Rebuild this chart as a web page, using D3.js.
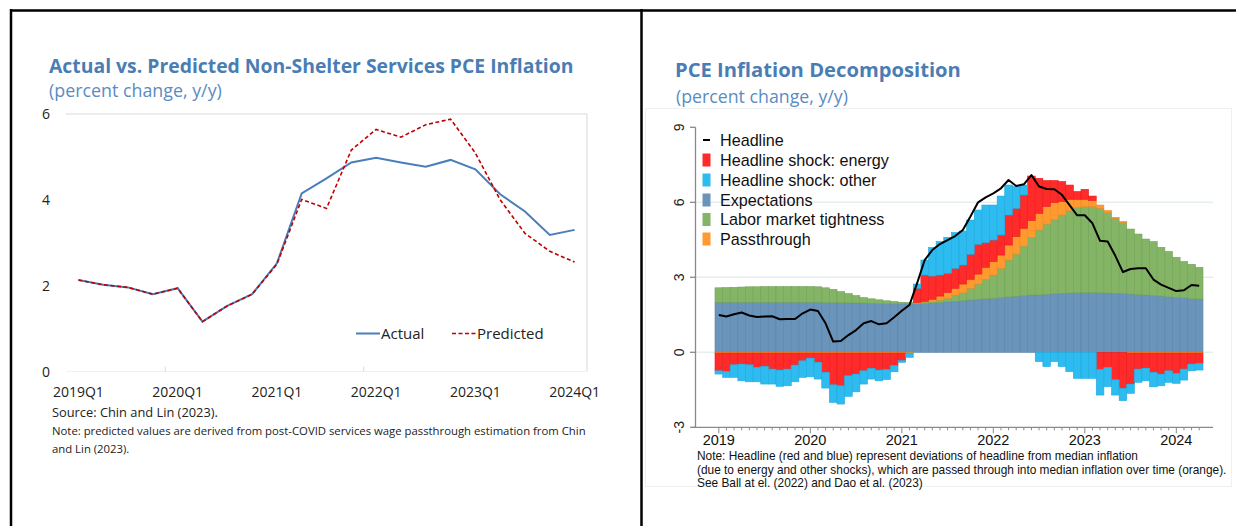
<!DOCTYPE html>
<html><head><meta charset="utf-8">
<script src="https://cdn.jsdelivr.net/npm/d3@7"></script>
<style>body{margin:0;background:#fff}svg{display:block}</style>
</head><body>
<svg id="c" width="1236" height="526"></svg>
<script>
// ---------- LEFT PANEL DATA ----------
const quarters = ["2019Q1","2019Q2","2019Q3","2019Q4","2020Q1","2020Q2","2020Q3","2020Q4",
  "2021Q1","2021Q2","2021Q3","2021Q4","2022Q1","2022Q2","2022Q3","2022Q4",
  "2023Q1","2023Q2","2023Q3","2023Q4","2024Q1"];
const actual = [2.13,2.02,1.96,1.80,1.94,1.16,1.53,1.80,2.52,4.15,4.50,4.87,4.98,4.87,4.77,4.93,4.71,4.13,3.73,3.18,3.30];
const predicted = [2.13,2.02,1.96,1.80,1.94,1.16,1.53,1.80,2.50,4.01,3.80,5.16,5.64,5.46,5.75,5.88,5.09,4.00,3.22,2.80,2.55];
const quarterTickLabels = ["2019Q1","2020Q1","2021Q1","2022Q1","2023Q1","2024Q1"];
const leftYTicks = [0,2,4,6];

// ---------- RIGHT PANEL DATA ----------
const months = [
 "2019-01","2019-02","2019-03","2019-04","2019-05","2019-06","2019-07","2019-08","2019-09","2019-10","2019-11","2019-12",
 "2020-01","2020-02","2020-03","2020-04","2020-05","2020-06","2020-07","2020-08","2020-09","2020-10","2020-11","2020-12",
 "2021-01","2021-02","2021-03","2021-04","2021-05","2021-06","2021-07","2021-08","2021-09","2021-10","2021-11","2021-12",
 "2022-01","2022-02","2022-03","2022-04","2022-05","2022-06","2022-07","2022-08","2022-09","2022-10","2022-11","2022-12",
 "2023-01","2023-02","2023-03","2023-04","2023-05","2023-06","2023-07","2023-08","2023-09","2023-10","2023-11","2023-12",
 "2024-01","2024-02","2024-03","2024-04"];
const headline = [
 1.49,1.43,1.52,1.59,1.47,1.41,1.43,1.44,1.32,1.33,1.33,1.56,
 1.71,1.65,1.16,0.43,0.45,0.69,0.89,1.16,1.25,1.12,1.16,1.40,
 1.66,1.89,2.76,3.69,4.09,4.33,4.49,4.65,4.89,5.43,6.00,6.20,
 6.36,6.56,6.89,6.65,6.72,7.09,6.63,6.53,6.52,6.30,5.89,5.48,
 5.48,5.16,4.46,4.43,3.86,3.21,3.33,3.36,3.36,2.91,2.71,2.58,
 2.45,2.48,2.69,2.66];
const expectations = [
 2.00,2.00,2.00,2.00,2.00,2.00,2.00,2.00,2.00,2.00,2.00,2.00,
 2.00,2.00,1.99,1.99,1.98,1.98,1.97,1.97,1.96,1.95,1.94,1.94,
 1.94,1.94,1.94,1.95,1.97,1.99,2.02,2.04,2.07,2.09,2.12,2.14,
 2.16,2.19,2.22,2.24,2.27,2.29,2.30,2.32,2.34,2.36,2.37,2.38,
 2.39,2.39,2.38,2.37,2.36,2.35,2.33,2.31,2.29,2.27,2.25,2.22,
 2.20,2.18,2.15,2.13];
const laborMarket = [
 0.58,0.59,0.60,0.61,0.62,0.62,0.63,0.63,0.63,0.63,0.63,0.63,
 0.63,0.62,0.59,0.53,0.45,0.37,0.30,0.22,0.18,0.15,0.12,0.09,
 0.06,0.05,0.05,0.06,0.06,0.10,0.14,0.25,0.32,0.47,0.61,0.78,
 0.93,1.17,1.47,1.69,1.98,2.31,2.59,2.81,2.98,3.13,3.30,3.41,
 3.44,3.44,3.38,3.22,3.00,2.84,2.60,2.42,2.24,2.16,1.95,1.81,
 1.60,1.45,1.37,1.27];
const passthrough = [
 -0.03,-0.03,-0.03,-0.03,-0.03,-0.03,-0.03,-0.03,-0.03,-0.03,-0.03,-0.03,
 -0.03,-0.03,-0.03,-0.03,-0.03,-0.03,-0.03,-0.03,-0.03,-0.03,-0.03,-0.03,
 -0.03,-0.03,0.01,0.03,0.09,0.16,0.23,0.27,0.34,0.36,0.40,0.48,
 0.54,0.53,0.60,0.70,0.71,0.67,0.67,0.70,0.67,0.54,0.45,0.33,
 0.29,0.24,0.13,0.08,0.04,0.04,-0.03,-0.03,-0.03,-0.03,-0.03,-0.03,
 -0.03,-0.03,-0.03,-0.03];
const energyShock = [
 -0.71,-0.73,-0.47,-0.44,-0.47,-0.57,-0.53,-0.64,-0.68,-0.64,-0.48,-0.31,
 -0.20,-0.37,-0.77,-1.27,-1.31,-0.91,-0.84,-0.71,-0.61,-0.68,-0.66,-0.50,
 -0.30,0.00,0.56,1.05,0.93,0.84,0.77,0.80,0.76,1.00,1.19,0.99,
 0.86,0.80,1.20,1.13,1.33,1.78,1.40,1.04,0.88,0.80,0.57,0.31,
 0.40,0.18,-0.68,-0.60,-1.10,-1.44,-1.24,-0.64,-0.60,-0.77,-0.84,-0.71,
 -0.81,-0.64,-0.44,-0.41];
const otherShock = [
 -0.13,-0.24,-0.50,-0.67,-0.68,-0.58,-0.71,-0.60,-0.65,-0.67,-0.67,-0.66,
 -0.75,-0.67,-0.63,-0.70,-0.73,-0.82,-0.71,-0.53,-0.43,-0.43,-0.40,-0.25,
 -0.07,-0.17,0.17,0.60,1.14,1.34,1.44,1.43,1.36,1.37,1.37,1.50,
 1.40,1.56,1.20,0.87,0.40,0.00,-0.37,-0.57,-0.37,-0.57,-0.77,-1.04,
 -1.04,-1.04,-1.03,-0.77,-0.61,-0.49,-0.37,-0.53,-0.51,-0.58,-0.47,-0.46,
 -0.40,-0.44,-0.27,-0.27];
const yearTickMonths = ["2019-01","2020-01","2021-01","2022-01","2023-01","2024-01"];
const yearTickLabels = ["2019","2020","2021","2022","2023","2024"];
const rightYTicks = [-3,0,3,6,9];
const seriesKeys = ["expectations","labor","passthrough","energy","other"];
const seriesFill = {expectations:"#6b94bb",labor:"#84b466",passthrough:"#ff9a30",energy:"#ff2b2b",other:"#2dbbf0"};
const seriesStroke = {expectations:"#5b84ac",labor:"#72a456",passthrough:"#f08a20",energy:"#e81b1b",other:"#1caae0"};

// ---------- HELPERS ----------
const svg = d3.select("#c");
function fit(sel, w){
  const L = sel.node().getComputedTextLength();
  const fs = parseFloat(sel.attr("font-size"));
  if (L > 0) sel.attr("font-size", (fs*w/L).toFixed(2));
  return sel;
}
const LF = "'Open Sans','Noto Sans',sans-serif";
const RF = "'Liberation Sans',Arial,sans-serif";

// ---------- FRAME ----------
svg.append("rect").attr("width",1236).attr("height",526).attr("fill","#fff");
svg.append("line").attr("x1",10).attr("x2",1236).attr("y1",10.5).attr("y2",10.5).attr("stroke","#000").attr("stroke-width",2.5);
svg.append("line").attr("x1",11).attr("x2",11).attr("y1",9).attr("y2",526).attr("stroke","#000").attr("stroke-width",2.5);
svg.append("line").attr("x1",641.5).attr("x2",641.5).attr("y1",9).attr("y2",526).attr("stroke","#000").attr("stroke-width",2.5);
svg.append("rect").attr("x",645.5).attr("y",108.5).attr("width",586).attr("height",378)
  .attr("fill","none").attr("stroke","#eef0f2").attr("stroke-width",1);

// ---------- LEFT PANEL ----------
const gl = svg.append("g");
fit(gl.append("text").attr("x",49).attr("y",72.5).attr("font-family",LF).attr("font-weight",700)
  .attr("font-size",20).attr("fill","#4a7db3").text("Actual vs. Predicted Non-Shelter Services PCE Inflation"),525);
fit(gl.append("text").attr("x",49).attr("y",96.5).attr("font-family",LF)
  .attr("font-size",16).attr("fill","#5a8cc3").text("(percent change, y/y)"),173);

const xL = d3.scaleBand().domain(quarters).range([66,587]);
const yL = d3.scaleLinear().domain([0,6]).range([371.5,114]);
const cx = q => xL(q) + xL.bandwidth()/2;

gl.append("line").attr("x1",66).attr("x2",587).attr("y1",yL(6)).attr("y2",yL(6)).attr("stroke","#d9d9d9");
gl.append("line").attr("x1",587).attr("x2",587).attr("y1",yL(6)).attr("y2",yL(0)).attr("stroke","#d9d9d9");
gl.append("line").attr("x1",66).attr("x2",587).attr("y1",yL(0)).attr("y2",yL(0)).attr("stroke","#f0f0f0");
["2020Q1","2022Q1"].forEach(q=>{
  gl.append("line").attr("x1",xL(q)).attr("x2",xL(q)).attr("y1",yL(0)-5).attr("y2",yL(0)).attr("stroke","#d9d9d9");
});
leftYTicks.forEach(v=>{
  gl.append("text").attr("x",50).attr("y",yL(v)+5).attr("text-anchor","end")
    .attr("font-family",LF).attr("font-size",14).attr("fill","#222").text(v);
});
quarterTickLabels.forEach(q=>{
  gl.append("text").attr("x",cx(q)).attr("y",397).attr("text-anchor","middle")
    .attr("font-family",LF).attr("font-size",14).attr("fill","#222").text(q);
});
const lineL = d3.line().x((d,i)=>cx(quarters[i])).y(d=>yL(d));
gl.append("path").attr("d",lineL(actual)).attr("fill","none").attr("stroke","#4a7ebb").attr("stroke-width",2);
gl.append("path").attr("d",lineL(predicted)).attr("fill","none").attr("stroke","#c00000")
  .attr("stroke-width",1.6).attr("stroke-dasharray","4,2.5");
// legend
gl.append("line").attr("x1",356).attr("x2",380).attr("y1",333.5).attr("y2",333.5).attr("stroke","#4a7ebb").attr("stroke-width",2);
gl.append("text").attr("x",381).attr("y",339).attr("font-family",LF).attr("font-size",15).attr("fill","#222").text("Actual");
gl.append("line").attr("x1",452).attr("x2",476).attr("y1",333.5).attr("y2",333.5).attr("stroke","#c00000")
  .attr("stroke-width",1.6).attr("stroke-dasharray","4,2.5");
gl.append("text").attr("x",477).attr("y",339).attr("font-family",LF).attr("font-size",15).attr("fill","#222").text("Predicted");
fit(gl.append("text").attr("x",52).attr("y",417).attr("font-family",LF).attr("font-size",12.5).attr("fill","#222")
  .text("Source: Chin and Lin (2023)."),166);
const n1 = fit(gl.append("text").attr("x",52).attr("y",435).attr("font-family",LF).attr("font-size",11).attr("fill","#222")
  .text("Note: predicted values are derived from post-COVID services wage passthrough estimation from Chin"),534);
gl.append("text").attr("x",52).attr("y",453).attr("font-family",LF).attr("font-size",n1.attr("font-size")).attr("fill","#222")
  .text("and Lin (2023).");

// ---------- RIGHT PANEL ----------
const gr = svg.append("g");
fit(gr.append("text").attr("x",675).attr("y",77).attr("font-family",LF).attr("font-weight",700)
  .attr("font-size",20).attr("fill","#4a7db3").text("PCE Inflation Decomposition"),286);
fit(gr.append("text").attr("x",676).attr("y",102.5).attr("font-family",LF)
  .attr("font-size",16).attr("fill","#5a8cc3").text("(percent change, y/y)"),172);

const xR = d3.scaleBand().domain(months).range([715,1203]);
const yR = d3.scaleLinear().domain([-3,9]).range([427.3,127.3]);
const mx = m => xR(m) + xR.bandwidth()/2;

[0,3,6].forEach(v=>{
  gr.append("line").attr("x1",696).attr("x2",1213).attr("y1",yR(v)).attr("y2",yR(v))
    .attr("stroke","#e4eef0").attr("stroke-width",1.5);
});

const table = months.map((m,i)=>({month:m, expectations:expectations[i], labor:laborMarket[i],
  passthrough:passthrough[i], energy:energyShock[i], other:otherShock[i]}));
const stacked = d3.stack().keys(seriesKeys).offset(d3.stackOffsetDiverging)(table);
stacked.forEach(s=>{
  gr.append("g").selectAll("rect").data(s).join("rect")
    .attr("x",d=>xR(d.data.month)).attr("width",xR.bandwidth())
    .attr("y",d=>yR(Math.max(d[0],d[1]))).attr("height",d=>Math.abs(yR(d[0])-yR(d[1])))
    .attr("fill",seriesFill[s.key]).attr("stroke",seriesStroke[s.key]).attr("stroke-width",0.6);
});
const lineR = d3.line().x((d,i)=>mx(months[i])).y(d=>yR(d));
gr.append("path").attr("d",lineR(headline)).attr("fill","none").attr("stroke","#000").attr("stroke-width",2)
  .attr("stroke-linejoin","round");

// axes
const axisCol = "#8a8a8a";
gr.append("line").attr("x1",695.5).attr("x2",695.5).attr("y1",yR(9)).attr("y2",yR(-3)).attr("stroke",axisCol).attr("stroke-width",1.3);
rightYTicks.forEach(v=>{
  gr.append("line").attr("x1",690).attr("x2",695.5).attr("y1",yR(v)).attr("y2",yR(v)).attr("stroke",axisCol).attr("stroke-width",1.3);
  gr.append("text").attr("transform",`translate(684,${yR(v)}) rotate(-90)`).attr("text-anchor","middle")
    .attr("font-family",RF).attr("font-size",14).attr("fill","#222").text(v);
});
gr.append("line").attr("x1",693).attr("x2",1213).attr("y1",yR(-3)).attr("y2",yR(-3)).attr("stroke",axisCol).attr("stroke-width",1.3);
months.forEach(m=>{
  const major = yearTickMonths.includes(m);
  gr.append("line").attr("x1",mx(m)).attr("x2",mx(m)).attr("y1",yR(-3)).attr("y2",yR(-3)+(major?6:3))
    .attr("stroke",axisCol).attr("stroke-width",1);
});
yearTickMonths.forEach((m,i)=>{
  gr.append("text").attr("x",mx(m)).attr("y",445).attr("text-anchor","middle")
    .attr("font-family",RF).attr("font-size",14.5).attr("fill","#111").text(yearTickLabels[i]);
});

// legend
const legendItems = [
  {name:"Headline", type:"line"},
  {name:"Headline shock: energy", key:"energy"},
  {name:"Headline shock: other", key:"other"},
  {name:"Expectations", key:"expectations"},
  {name:"Labor market tightness", key:"labor"},
  {name:"Passthrough", key:"passthrough"}];
const legendY = [140,160,180,200,219.5,239];
const legTexts = [];
legendItems.forEach((it,i)=>{
  const y = legendY[i];
  if (it.type==="line") {
    gr.append("line").attr("x1",703).attr("x2",710).attr("y1",y).attr("y2",y).attr("stroke","#000").attr("stroke-width",2);
  } else {
    gr.append("rect").attr("x",702.5).attr("y",y-6.5).attr("width",8).attr("height",13)
      .attr("fill",seriesFill[it.key]);
  }
  legTexts.push(gr.append("text").attr("x",720).attr("y",y+5.5).attr("font-family",RF)
    .attr("font-size",15).attr("fill","#111").text(it.name));
});
fit(legTexts[1],169);
legTexts.forEach(t=>t.attr("font-size",legTexts[1].attr("font-size")));

// notes
const noteLines = ["Note: Headline (red and blue) represent deviations of headline from median inflation",
  "(due to energy and other shocks), which are passed through into median inflation over time (orange).",
  "See Ball at el. (2022) and Dao et al. (2023)"];
const nt = gr.append("text").attr("x",697).attr("y",473.5).attr("font-family",RF).attr("font-size",11).attr("fill","#111").text(noteLines[1]);
fit(nt,530);
const nfs = nt.attr("font-size");
gr.append("text").attr("x",697).attr("y",460).attr("font-family",RF).attr("font-size",nfs).attr("fill","#111").text(noteLines[0]);
gr.append("text").attr("x",697).attr("y",487).attr("font-family",RF).attr("font-size",nfs).attr("fill","#111").text(noteLines[2]);
</script>
</body></html>
